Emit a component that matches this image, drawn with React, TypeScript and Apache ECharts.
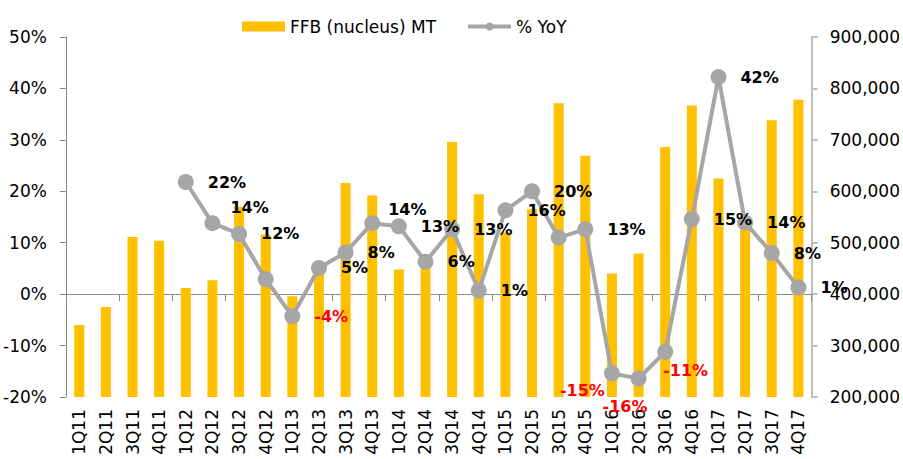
import React, { useEffect, useRef } from "react";
import * as echarts from "echarts";

const categories = [
  "1Q11", "2Q11", "3Q11", "4Q11",
  "1Q12", "2Q12", "3Q12", "4Q12",
  "1Q13", "2Q13", "3Q13", "4Q13",
  "1Q14", "2Q14", "3Q14", "4Q14",
  "1Q15", "2Q15", "3Q15", "4Q15",
  "1Q16", "2Q16", "3Q16", "4Q16",
  "1Q17", "2Q17", "3Q17", "4Q17",
];

// FFB (nucleus) MT, right axis
const ffbValues = [
  340000, 375000, 511000, 504000,
  412000, 427000, 570000, 516000,
  396000, 446000, 616000, 592000,
  448000, 470000, 696000, 594000,
  520000, 565000, 771000, 669000,
  440000, 479000, 686000, 767000,
  625000, 545000, 738000, 778000,
];

// % YoY, left axis
const yoyValues: (number | null)[] = [
  null, null, null, null,
  21.8, 13.8, 11.7, 2.9,
  -4.3, 5.1, 8.1, 13.8,
  13.2, 6.3, 12.6, 0.7,
  16.3, 20.0, 11.0, 12.6,
  -15.4, -16.4, -11.2, 14.6,
  42.2, 13.9, 8.0, 1.3,
];

const leftTicks = { min: -20, max: 50, interval: 10 };
const rightTicks = { min: 200000, max: 900000, interval: 100000 };

// label placement tweaks (style only)
const hiddenLabels = new Set([7, 18]);
const labelOffsets: Record<number, [number, number]> = {
  5: [-4, -16],
  11: [-6, -14],
  20: [-74, 17],
  21: [-58, 28],
  22: [-24, 19],
};

const FONT = "DejaVu Sans";

export default function App() {
  const ref = useRef<HTMLDivElement>(null);

  useEffect(() => {
    if (!ref.current) return;
    const chart = echarts.init(ref.current, undefined, { renderer: "svg" });

    const lineData = yoyValues.map((v, i) => {
      if (v === null) return null;
      const off = labelOffsets[i];
      return {
        value: v,
        label: {
          show: !hiddenLabels.has(i),
          color: v < 0 ? "#FF0000" : "#000000",
          ...(off ? { offset: off } : {}),
        },
      };
    });

    chart.setOption({
      animation: false,
      backgroundColor: "#ffffff",
      textStyle: { fontFamily: FONT },
      legend: {
        left: 237,
        top: 13,
        itemGap: 30,
        itemWidth: 43,
        itemHeight: 10,
        textStyle: { fontFamily: FONT, fontSize: 17, color: "#000" },
        data: [
          { name: "FFB (nucleus) MT", icon: "rect" },
          { name: "% YoY", lineStyle: { width: 4, color: "#A6A6A6" } },
        ],
      },
      grid: { left: 65, right: 91, top: 37, bottom: 62 },
      xAxis: [
        {
          type: "category",
          data: categories,
          position: "bottom",
          boundaryGap: true,
          axisLine: {
            show: true,
            onZero: true,
            onZeroAxisIndex: 0,
            lineStyle: { color: "#8C8C8C", width: 1 },
          },
          axisTick: { show: true, length: 7, lineStyle: { color: "#8C8C8C" } },
          axisLabel: { show: false },
          splitLine: { show: false },
        },
        {
          type: "category",
          data: categories,
          position: "bottom",
          boundaryGap: true,
          axisLine: { show: false, onZero: false },
          axisTick: { show: false },
          axisLabel: {
            show: true,
            rotate: 90,
            interval: 0,
            margin: 12,
            fontFamily: FONT,
            fontSize: 17,
            color: "#000",
          },
          splitLine: { show: false },
        },
      ],
      yAxis: [
        {
          type: "value",
          position: "left",
          min: leftTicks.min,
          max: leftTicks.max,
          interval: leftTicks.interval,
          axisLine: { show: true, lineStyle: { color: "#868686", width: 1 } },
          axisTick: { show: true, length: 6, lineStyle: { color: "#868686" } },
          splitLine: { show: false },
          axisLabel: {
            formatter: (v: number) => `${v}%`,
            margin: 19,
            fontFamily: FONT,
            fontSize: 17,
            color: "#000",
          },
        },
        {
          type: "value",
          position: "right",
          min: rightTicks.min,
          max: rightTicks.max,
          interval: rightTicks.interval,
          axisLine: { show: true, lineStyle: { color: "#BFBFBF", width: 2 } },
          axisTick: { show: true, length: 6, lineStyle: { color: "#BFBFBF", width: 2 } },
          splitLine: { show: false },
          axisLabel: {
            formatter: (v: number) => v.toLocaleString("en-US"),
            margin: 18,
            fontFamily: FONT,
            fontSize: 17,
            color: "#000",
          },
        },
      ],
      series: [
        {
          name: "FFB (nucleus) MT",
          type: "bar",
          xAxisIndex: 0,
          yAxisIndex: 1,
          barWidth: 10,
          clip: true,
          itemStyle: { color: "#FFC000" },
          data: ffbValues,
        },
        {
          name: "% YoY",
          type: "line",
          xAxisIndex: 0,
          yAxisIndex: 0,
          symbol: "circle",
          symbolSize: 16,
          connectNulls: false,
          lineStyle: { color: "#A6A6A6", width: 4 },
          itemStyle: { color: "#A6A6A6" },
          label: {
            show: true,
            position: "right",
            distance: 14,
            fontFamily: FONT,
            fontSize: 16,
            fontWeight: "bold",
            formatter: (p: any) => `${Math.round(p.value)}%`,
          },
          data: lineData,
        },
      ],
    });

    return () => chart.dispose();
  }, []);

  return (
    <div
      ref={ref}
      style={{ position: "absolute", left: 0, top: 0, width: 903, height: 459, background: "#fff" }}
    />
  );
}
